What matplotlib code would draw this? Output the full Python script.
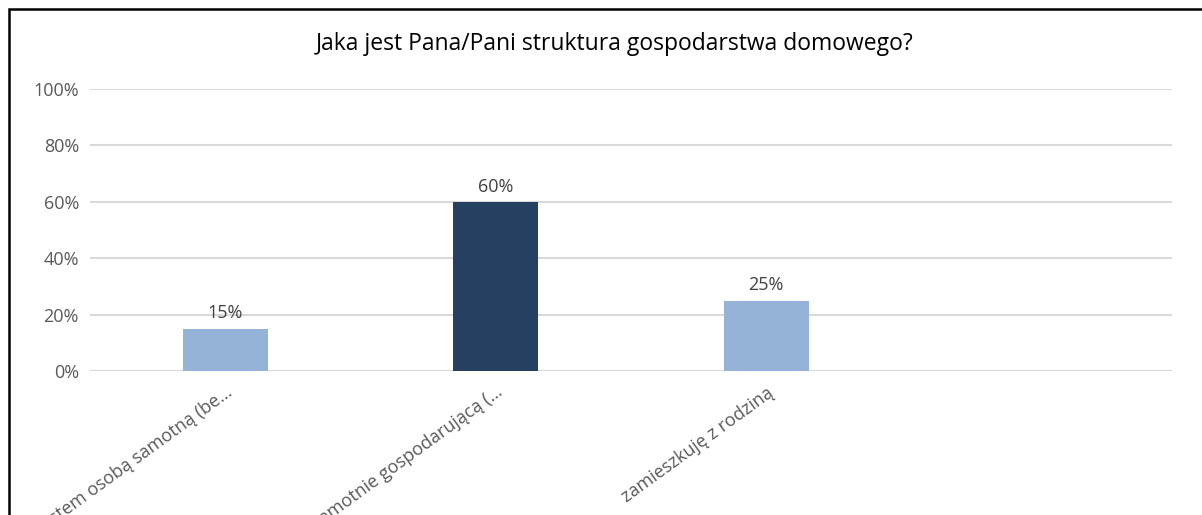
import matplotlib
matplotlib.use("Agg")
import matplotlib.pyplot as plt
from matplotlib.patches import Rectangle
import numpy as np

plt.rcParams['font.family'] = ['Open Sans', 'DejaVu Sans']

# data
categories = ["Jestem osobą samotną (be…",
              "Jestem osobą samotnie gospodarującą (…",
              "zamieszkuję z rodziną",
              ""]
values = [0.15, 0.60, 0.25, np.nan]
bar_colors = ["#95B3D7", "#254061", "#95B3D7", "#95B3D7"]
title = "Jaka jest Pana/Pani struktura gospodarstwa domowego?"

fig = plt.figure(figsize=(12.02, 5.15), dpi=100)
ax = fig.add_axes([90 / 1202, 1 - 371 / 515, 1082 / 1202, 282 / 515])

x = np.arange(len(categories))
bars = ax.bar(x, values, width=0.314, color=bar_colors, zorder=3)

for xi, v in zip(x, values):
    if not np.isnan(v):
        ax.text(xi, v + 0.022, "{:.0f}%".format(v * 100), ha="center", va="bottom",
                fontsize=13, color="#404040", zorder=4)

ax.set_xlim(-0.5, len(categories) - 0.5)
ax.set_ylim(0, 1)
ticks = np.arange(0, 1.01, 0.2)
ax.set_yticks(ticks)
ax.set_yticklabels(["{:.0f}%".format(t * 100) for t in ticks])
ax.yaxis.grid(True, color="#D9D9D9", linewidth=1.5, zorder=0)
ax.set_axisbelow(True)
ax.axhline(0, color="#D9D9D9", linewidth=1.5, zorder=1)

ax.set_xticks(x)
ax.set_xticklabels(categories, rotation=36, ha="right", va="top",
                   rotation_mode="anchor", fontsize=13, color="#595959")
ax.tick_params(axis="x", length=0, pad=9)
ax.tick_params(axis="y", length=0, pad=8, labelsize=13, labelcolor="#595959")
for s in ax.spines.values():
    s.set_visible(False)

fig.text(615 / 1202, 1 - 44 / 515, title, ha="center", va="center",
         fontsize=16.5, color="#000000")

# chart border (cropped on right and bottom)
fig.patches.append(Rectangle((9 / 1202, -0.1), 1.2, 1.1 - 9 / 515, transform=fig.transFigure,
                             fill=False, edgecolor="#000000", linewidth=1.8))

fig.savefig("out.png", dpi=100)
